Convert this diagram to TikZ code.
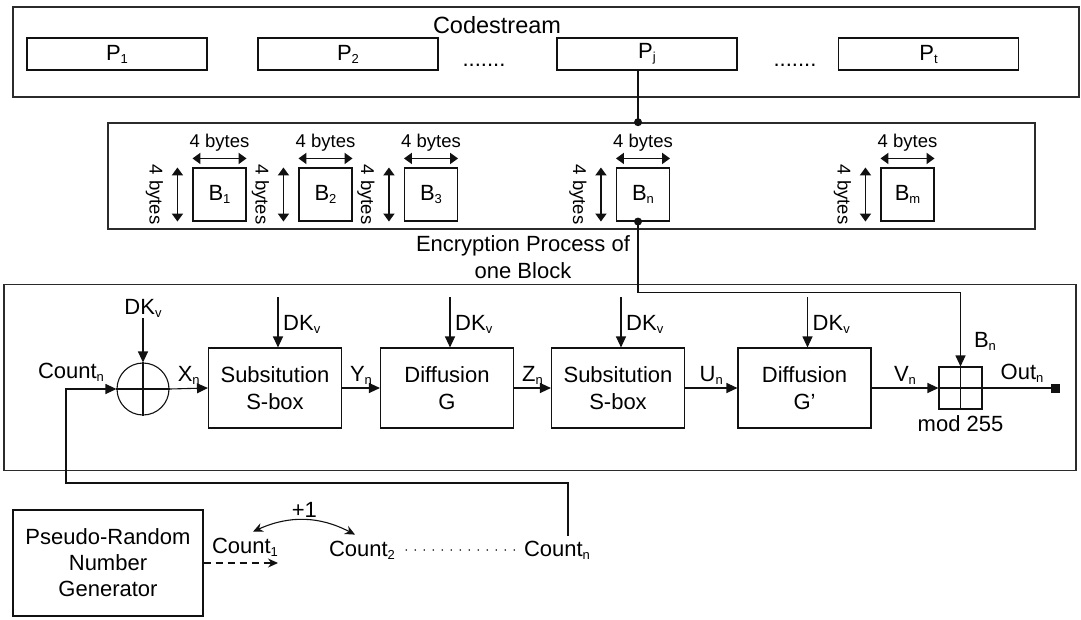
\documentclass[tikz,border=0pt]{standalone}
\usepackage{fontspec}
\setmainfont{Liberation Sans}
\usetikzlibrary{arrows.meta,calc,positioning}
\definecolor{StrokeDark}{HTML}{111111}
\definecolor{FrameDark}{HTML}{2B2B2B}
\newcommand{\encFont}{\fontsize{22}{27}\selectfont}
\newcommand{\sizeFont}{\fontsize{18.5}{20}\selectfont}
\newcommand{\low}[1]{\raisebox{-3pt}{\fontsize{13}{13}\selectfont #1}}
\tikzset{
  encFrame/.style={rectangle,draw=FrameDark,line width=1.6pt,inner sep=0pt},
  encPacket/.style={rectangle,draw=StrokeDark,line width=1.1pt,minimum width=180pt,
    minimum height=32pt,inner sep=0pt,font=\encFont},
  encBlock/.style={rectangle,draw=StrokeDark,line width=1.1pt,minimum size=53pt,
    inner sep=0pt,font=\encFont},
  encStage/.style={rectangle,draw=StrokeDark,line width=1.1pt,minimum width=133pt,
    minimum height=80pt,align=center,font=\encFont,inner sep=0pt},
  encLabel/.style={font=\encFont,inner sep=1pt,align=center},
  encSize/.style={font=\sizeFont,inner sep=1pt},
  encWire/.style={draw=StrokeDark,line width=1.1pt},
  encFlow/.style={encWire,-{Triangle[length=11pt,width=10pt]}},
  encDim/.style={encWire,line width=1.8pt,
    {Triangle[length=8pt,width=11pt]}-{Triangle[length=8pt,width=11pt]}},
  encDash/.style={encWire,dashed,dash pattern=on 7pt off 5pt,-{Stealth[length=10pt,width=9pt]}},
  encStep/.style={encWire,{Stealth[length=10pt,width=9pt]}-{Stealth[length=10pt,width=9pt]}},
  encDots/.style={draw=StrokeDark,line width=1.8pt,dash pattern=on 0pt off 9pt,line cap=round},
  encDot/.style={circle,fill=StrokeDark,inner sep=0pt,minimum size=8pt},
  encEnd/.style={rectangle,fill=StrokeDark,inner sep=0pt,minimum size=9pt}
}

\begin{document}
\begin{tikzpicture}[x=1pt,y=-1pt]
  \useasboundingbox (0,0) rectangle (1081,619);

  % codestream with its packets
  \node[encFrame,minimum width=1066pt,minimum height=90pt] (stream) at (546,52) {};
  \node[encLabel,font=\fontsize{23.5}{27}\selectfont] (streamTitle) at (497,25) {Codestream};
  \node[encPacket] (p1) at (117,54) {P\low{1}};
  \node[encPacket] (p2) at (348,54) {P\low{2}};
  \node[encPacket] (pj) at (647,54) {P\low{j}};
  \node[encPacket] (pt) at (928.5,54) {P\low{t}};
  \node[encLabel,anchor=base] (gap1) at (484,66) {.......};
  \node[encLabel,anchor=base] (gap2) at (795,66) {.......};

  % blocks of one packet
  \node[encFrame,minimum width=927pt,minimum height=106pt] (blocks) at (571.5,176) {};
  \foreach \b/\x/\s in {b1/219.5/1,b2/325.5/2,b3/431/3,bn/643/n,bm/907.5/m}{
    \node[encBlock] (\b) at (\x,194.5) {B\low{\s}};
    \draw[encDim] ([yshift=9pt]\b.north west) -- ([yshift=9pt]\b.north east);
    \node[encSize] at ([yshift=25pt]\b.north) {4 bytes};
    \draw[encDim] ([xshift=-15pt]\b.north west) -- ([xshift=-15pt]\b.south west);
    \node[encSize,rotate=-90] at ([xshift=-38pt]\b.west) {4 bytes};
  }
  \coordinate (tap) at (638,0);
  \draw[encWire] (pj.south -| tap) -- (blocks.north -| tap);
  \node[encDot] at (blocks.north -| tap) {};
  \node[encDot] (bnOut) at (bn.south -| tap) {};
  \node[encLabel] (procTitle) at (523,257) {Encryption Process of\\one Block};

  % encryption of one block
  \node[encFrame,minimum width=1072pt,minimum height=186pt] (round) at (540,377.5) {};
  \node[circle,draw=StrokeDark,line width=1.1pt,minimum size=52pt,inner sep=0pt] (xor) at (143,389) {};
  \draw[encWire] (xor.north) -- (xor.south) (xor.west) -- (xor.east);
  \node[encLabel] (dk0) at (143,308) {DK\low{v}};
  \draw[encFlow] (dk0.south) -- (xor.north);
  \node[encLabel] (cntIn) at (71,372) {Count\low{n}};

  \node[encStage] (s1) at (275,388) {Subsitution\\S-box};
  \node[encStage] (d1) at (447,388) {Diffusion\\G};
  \node[encStage] (s2) at (618,388) {Subsitution\\S-box};
  \node[encStage] (d2) at (804.5,388) {Diffusion\\G’};
  \foreach \s in {s1,d1,s2,d2}{
    \draw[encFlow] ([xshift=3pt,yshift=50pt]\s.north) -- ([xshift=3pt]\s.north);
    \node[encLabel,anchor=west] at ([xshift=7pt,yshift=23pt]\s.north) {DK\low{v}};
  }

  \node[rectangle,draw=StrokeDark,line width=1.1pt,minimum width=43pt,minimum height=42pt,
    inner sep=0pt] (modbox) at (960.5,388) {};
  \draw[encWire] (modbox.north) -- (modbox.south) (modbox.west) -- (modbox.east);
  \node[encLabel,below=5pt of modbox] (modText) {mod 255};
  \node[encEnd] (out) at (1055,388) {};

  \draw[encFlow] (xor.east) -- node[encLabel,above=2pt] {X\low{n}} (s1.west);
  \draw[encFlow] (s1.east) -- node[encLabel,above=2pt] {Y\low{n}} (d1.west);
  \draw[encFlow] (d1.east) -- node[encLabel,above=2pt] {Z\low{n}} (s2.west);
  \draw[encFlow] (s2.east) -- node[encLabel,above=2pt] {U\low{n}} (d2.west);
  \draw[encFlow] (d2.east) -- node[encLabel,above=2pt] {V\low{n}} (modbox.west);
  \draw[encWire] (modbox.east) -- (out.center);
  \node[encLabel] (outLabel) at (1022,373) {Out\low{n}};
  \node[encLabel] (bnLabel) at (985,341) {B\low{n}};
  \draw[encFlow] (bnOut.center) -- ++(0,71) -| (modbox.north);

  % counter generation
  \node[encStage,minimum width=190pt,minimum height=106pt,font=\fontsize{22}{26}\selectfont]
    (prng) at (108,563) {Pseudo-Random\\Number\\Generator};
  \node[encLabel] (cnt1) at (245,547) {Count\low{1}};
  \node[encLabel] (cnt2) at (362,550) {Count\low{2}};
  \node[encLabel] (cntN) at (557,550) {Count\low{n}};
  \coordinate (dashEnd) at (278,563);
  \draw[encDash] (prng.east) -- (dashEnd);
  \draw[encStep] ([xshift=8pt,yshift=5pt]cnt1.north) to[bend left=26]
    node[encLabel,above=1pt] {+1} ([xshift=-7pt,yshift=5pt]cnt2.north);
  \draw[encDots] ([xshift=10pt]cnt2.east) -- ([xshift=-8pt]cntN.west);
  \coordinate (loopA) at (66,483);
  \draw[encFlow] ([xshift=11pt,yshift=4pt]cntN.north) |- (loopA) |- (xor.west);
\end{tikzpicture}
\end{document}
